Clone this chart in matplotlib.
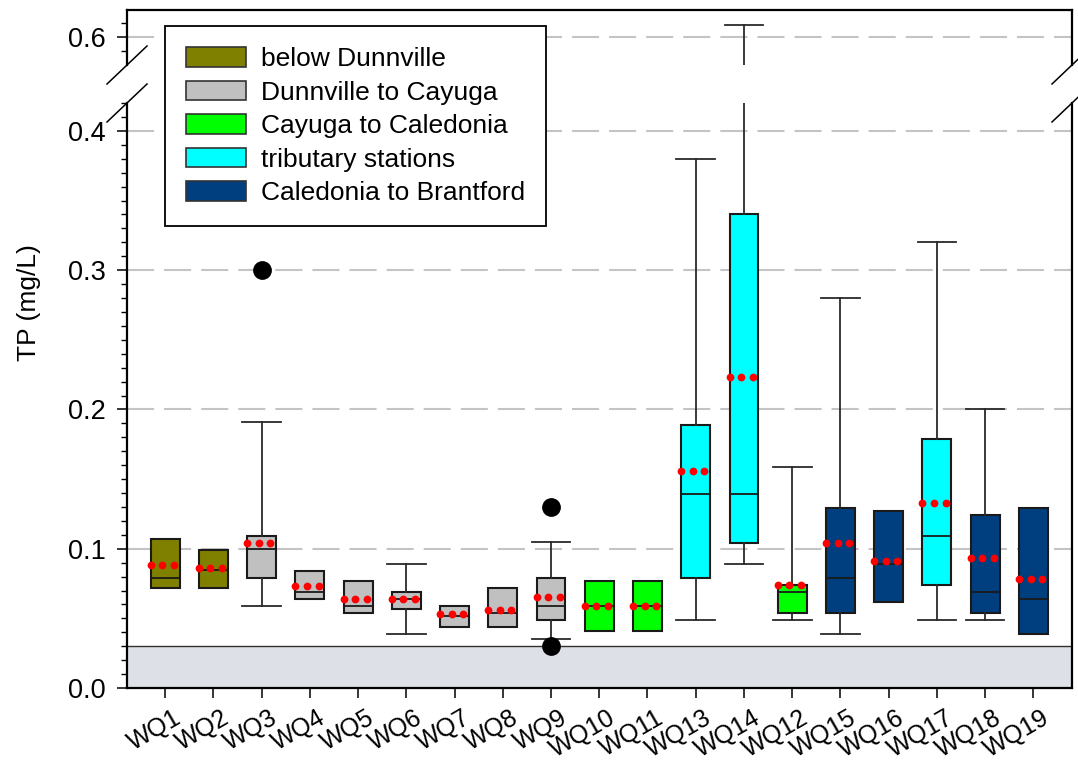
import matplotlib
matplotlib.use('Agg')
import matplotlib.pyplot as plt
import matplotlib.transforms as mtransforms
from matplotlib.patches import Patch
from matplotlib.lines import Line2D
import numpy as np

plt.rcParams['font.family'] = ['Liberation Sans', 'DejaVu Sans']

# ---------------- data ----------------
stations = ['WQ1', 'WQ2', 'WQ3', 'WQ4', 'WQ5', 'WQ6', 'WQ7', 'WQ8', 'WQ9', 'WQ10',
            'WQ11', 'WQ13', 'WQ14', 'WQ12', 'WQ15', 'WQ16', 'WQ17', 'WQ18', 'WQ19']
groups = ['below Dunnville', 'below Dunnville',
          'Dunnville to Cayuga', 'Dunnville to Cayuga', 'Dunnville to Cayuga',
          'Dunnville to Cayuga', 'Dunnville to Cayuga', 'Dunnville to Cayuga',
          'Dunnville to Cayuga',
          'Cayuga to Caledonia', 'Cayuga to Caledonia',
          'tributary stations', 'tributary stations',
          'Cayuga to Caledonia',
          'Caledonia to Brantford', 'Caledonia to Brantford',
          'tributary stations',
          'Caledonia to Brantford', 'Caledonia to Brantford']
q1 = [0.072, 0.072, 0.079, 0.064, 0.054, 0.057, 0.044, 0.044, 0.049, 0.041,
      0.041, 0.079, 0.104, 0.054, 0.054, 0.062, 0.074, 0.054, 0.039]
median = [0.079, 0.085, 0.100, 0.069, 0.059, 0.064, 0.052, 0.054, 0.059, 0.059,
          0.059, 0.139, 0.139, 0.069, 0.079, 0.089, 0.109, 0.069, 0.064]
q3 = [0.107, 0.099, 0.109, 0.084, 0.077, 0.069, 0.059, 0.072, 0.079, 0.077,
      0.077, 0.189, 0.340, 0.074, 0.129, 0.127, 0.179, 0.124, 0.129]
mean = [0.088, 0.086, 0.104, 0.073, 0.064, 0.064, 0.053, 0.056, 0.065, 0.059,
        0.059, 0.156, 0.223, 0.074, 0.104, 0.091, 0.133, 0.093, 0.078]
whisker_low = [None, None, 0.059, None, None, 0.039, None, None, 0.035, None,
               None, 0.049, 0.089, 0.049, 0.039, None, 0.049, 0.049, None]
whisker_high = [None, None, 0.191, None, None, 0.089, None, None, 0.105, None,
                None, 0.380, 0.609, 0.159, 0.280, None, 0.320, 0.200, None]
outliers = [[], [], [0.30], [], [], [], [], [], [0.13, 0.03], [],
            [], [], [], [], [], [], [], [], []]

group_names = ['below Dunnville', 'Dunnville to Cayuga', 'Cayuga to Caledonia',
               'tributary stations', 'Caledonia to Brantford']
group_colors = ['#808000', '#c0c0c0', '#00ff00', '#00ffff', '#003f7f']

grid_values_low = [0.1, 0.2, 0.3, 0.4]
grid_values_high = [0.6]
band_top = 0.03

# ---------------- figure ----------------
W, H = 1078, 764
fig = plt.figure(figsize=(W / 100, H / 100), dpi=100)

x_left, x_right = 127, 1072
low_bottom, low_top = 688, 103
high_bottom, high_top = 65, 10

ax = fig.add_axes([x_left / W, 1 - low_bottom / H, (x_right - x_left) / W,
                   (low_bottom - low_top) / H])
axu = fig.add_axes([x_left / W, 1 - high_bottom / H, (x_right - x_left) / W,
                    (high_bottom - high_top) / H], sharex=ax)

color_of = dict(zip(group_names, group_colors))
positions = np.arange(len(stations))

stats = []
for i in range(len(stations)):
    lo = whisker_low[i] if whisker_low[i] is not None else q1[i]
    hi = whisker_high[i] if whisker_high[i] is not None else q3[i]
    stats.append(dict(med=median[i], q1=q1[i], q3=q3[i], whislo=lo, whishi=hi,
                      fliers=outliers[i], label=stations[i]))

mean_offsets = np.array([-0.30, -0.06, 0.18])

for a in (ax, axu):
    a.set_axisbelow(True)
    res = a.bxp(stats, positions=positions, widths=0.6, capwidths=0.8,
                patch_artist=True, showfliers=True,
                boxprops=dict(edgecolor='#1a1a1a', linewidth=1.5),
                medianprops=dict(color='#1a1a1a', linewidth=1.3),
                whiskerprops=dict(color='#2a2a2a', linewidth=1.3),
                capprops=dict(color='#2a2a2a', linewidth=1.3),
                flierprops=dict(marker='o', markerfacecolor='black',
                                markeredgecolor='black', markersize=12.5))
    for i, box in enumerate(res['boxes']):
        box.set_facecolor(color_of[groups[i]])
        box.set_zorder(2)
        if whisker_low[i] is None:
            res['whiskers'][2 * i].set_visible(False)
            res['caps'][2 * i].set_visible(False)
        if whisker_high[i] is None:
            res['whiskers'][2 * i + 1].set_visible(False)
            res['caps'][2 * i + 1].set_visible(False)
    for i, m in enumerate(mean):
        a.plot(positions[i] + mean_offsets, [m] * 3, 'o', color='#ff0000',
               markersize=5.6, markeredgewidth=0, zorder=5)
    a.set_xlim(-0.79, 18.8)
    for s in a.spines.values():
        s.set_linewidth(1.6)

# lower axis
ax.set_ylim(0, 0.42)
ax.axhspan(0, band_top, color='#dde0e6', zorder=0.5, linewidth=0)
ax.axhline(band_top, color='#303030', linewidth=1.0, zorder=0.6)
for g in grid_values_low:
    ax.axhline(g, color='#c4c4c4', linewidth=1.5, linestyle=(0, (13, 4.8)), zorder=0.4)
ax.spines['top'].set_visible(False)
ax.set_yticks([0.0, 0.1, 0.2, 0.3, 0.4])
ax.set_yticks(np.round(np.arange(0, 0.4201, 0.01), 2), minor=True)
ax.set_yticklabels(['0.0', '0.1', '0.2', '0.3', '0.4'])
ax.tick_params(axis='y', which='major', direction='out', length=7.5, width=1.1,
               labelsize=19.5, pad=8)
ax.tick_params(axis='y', which='minor', direction='out', length=4.5, width=1.0)
ax.set_xticks(positions)
ax.set_xticklabels(stations, rotation=30, ha='right', va='top',
                   rotation_mode='anchor', fontsize=18)
ax.tick_params(axis='x', direction='out', length=7.5, width=1.1, pad=5)
offset = mtransforms.ScaledTranslation(8 / 100, 0, fig.dpi_scale_trans)
for lab in ax.get_xticklabels():
    lab.set_transform(lab.get_transform() + offset)

# upper axis
axu.set_ylim(0.58, 0.6195)
for g in grid_values_high:
    axu.axhline(g, color='#c4c4c4', linewidth=1.5, linestyle=(0, (13, 4.8)), zorder=0.4)
axu.spines['bottom'].set_visible(False)
axu.set_yticks([0.6])
axu.set_yticklabels(['0.6'])
axu.set_yticks([0.59, 0.61], minor=True)
axu.tick_params(axis='y', which='major', direction='out', length=7.5, width=1.1,
                labelsize=19.5, pad=8)
axu.tick_params(axis='y', which='minor', direction='out', length=4.5, width=1.0)
axu.tick_params(axis='x', which='both', bottom=False, labelbottom=False)

# break marks
def slash(a, xa, ya):
    bb = a.get_position()
    aw = bb.width * W
    ah = bb.height * H
    dx = 20 / aw
    dy = 19 / ah
    a.add_line(Line2D([xa - dx, xa + dx], [ya - dy, ya + dy], transform=a.transAxes,
                      color='black', linewidth=1.1, clip_on=False))

slash(ax, 0, 1)
slash(ax, 1, 1)
slash(axu, 0, 0)
slash(axu, 1, 0)

# y label
fig.text(29 / W, 1 - 303 / H, 'TP (mg/L)', rotation=90, ha='center', va='center',
         fontsize=19)

# legend
handles = [Patch(facecolor=c, edgecolor='#333333', linewidth=1.2) for c in group_colors]
leg = fig.legend(handles, group_names, loc='upper left',
                 bbox_to_anchor=(165 / W, 1 - 26 / H), fontsize=19,
                 frameon=True, fancybox=False, edgecolor='black', framealpha=1,
                 handlelength=2.27, handleheight=0.76, handletextpad=0.57,
                 labelspacing=0.36, borderpad=0.8, borderaxespad=0)
leg.get_frame().set_linewidth(1.3)

fig.savefig('out.png', dpi=100)
